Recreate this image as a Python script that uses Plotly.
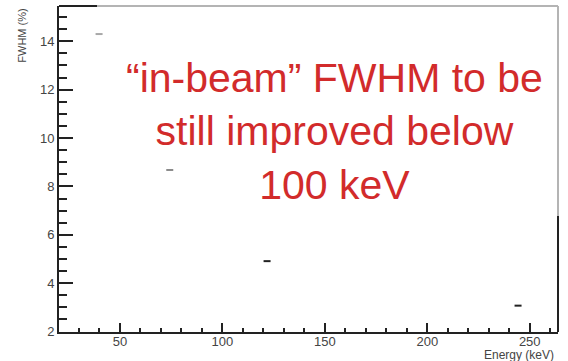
import plotly.graph_objects as go

# Measured energy resolution points
energy_kev = [39.8, 74.3, 121.8, 244.3]
fwhm_pct = [14.3, 8.68, 4.91, 3.07]

x_ticks = [50, 100, 150, 200, 250]
y_ticks = [2, 4, 6, 8, 10, 12, 14]

x_range = [20.24, 263.8]
y_range = [1.98, 15.46]

W, H = 568, 361
ML, MR, MT, MB = 59, 10, 6, 29
plot_w = W - ML - MR
plot_h = H - MT - MB

def px_x(p):
    return (p - ML) / plot_w

def px_y(p):
    return (H - MB - p) / plot_h

FONT = "Liberation Sans, Arial, Helvetica, sans-serif"
AXIS_COL = "#222222"
FRAME_LIGHT = "#b4b4b4"
POINT_COLS = ["#a8a8a8", "#8a8a8a", "#222222", "#222222"]

fig = go.Figure()
fig.add_trace(go.Scatter(
    x=energy_kev, y=fwhm_pct, mode="markers",
    marker=dict(symbol="line-ew", size=5, color=POINT_COLS,
                line=dict(width=2, color=POINT_COLS)),
    showlegend=False, hoverinfo="x+y",
))

fig.update_layout(
    width=W, height=H,
    margin=dict(l=ML, r=MR, t=MT, b=MB, pad=0),
    paper_bgcolor="white", plot_bgcolor="white",
    font=dict(family=FONT, size=13, color="#333333"),
    xaxis=dict(
        range=x_range, tickvals=x_ticks, ticktext=[str(v) for v in x_ticks],
        ticks="inside", ticklen=9, tickwidth=2, tickcolor=AXIS_COL,
        showline=True, linewidth=2, linecolor=AXIS_COL, showgrid=False, zeroline=False,
        minor=dict(dtick=10, tick0=0, ticks="inside", ticklen=4, tickwidth=2, tickcolor=AXIS_COL, showgrid=False),
        tickfont=dict(size=13, color="#444444"),
        ticklabelstandoff=-4,
    ),
    yaxis=dict(
        range=y_range, tickvals=y_ticks, ticktext=[str(v) for v in y_ticks],
        ticks="inside", ticklen=14, tickwidth=2, tickcolor=AXIS_COL,
        showline=True, linewidth=2, linecolor=AXIS_COL, showgrid=False, zeroline=False,
        minor=dict(dtick=0.5, tick0=0, ticks="inside", ticklen=8, tickwidth=2, tickcolor=AXIS_COL, showgrid=False),
        tickfont=dict(size=13, color="#444444"),
        ticklabelstandoff=0,
    ),
)

# Frame edges: top and right, partly hidden under the comment box border
shapes = [
    dict(type="line", xref="paper", yref="paper", x0=0, x1=px_x(97), y0=1, y1=1,
         line=dict(color=AXIS_COL, width=2)),
    dict(type="line", xref="paper", yref="paper", x0=px_x(97), x1=1, y0=1, y1=1,
         line=dict(color=FRAME_LIGHT, width=2)),
    dict(type="line", xref="paper", yref="paper", x0=1, x1=1, y0=1, y1=px_y(216),
         line=dict(color=FRAME_LIGHT, width=2)),
    dict(type="line", xref="paper", yref="paper", x0=1, x1=1, y0=px_y(216), y1=0,
         line=dict(color=AXIS_COL, width=2)),
]
fig.update_layout(shapes=shapes)

annotations = [
    dict(text="FWHM (%)", xref="paper", yref="paper", x=px_x(21.7), y=px_y(7),
         xanchor="center", yanchor="top", textangle=-90, showarrow=False,
         font=dict(family=FONT, size=11, color="#444444")),
    dict(text="Energy (keV)", xref="paper", yref="paper", x=px_x(556), y=px_y(355),
         xanchor="right", yanchor="middle", showarrow=False,
         font=dict(family=FONT, size=12, color="#444444")),
    dict(text="“in-beam” FWHM to be<br>still improved below<br>100 keV",
         xref="paper", yref="paper", x=px_x(334), y=px_y(131),
         xanchor="center", yanchor="middle", align="center", showarrow=False,
         font=dict(family=FONT, size=41, color="#d22b2b")),
]
fig.update_layout(annotations=annotations)

fig.write_html("out.html")
